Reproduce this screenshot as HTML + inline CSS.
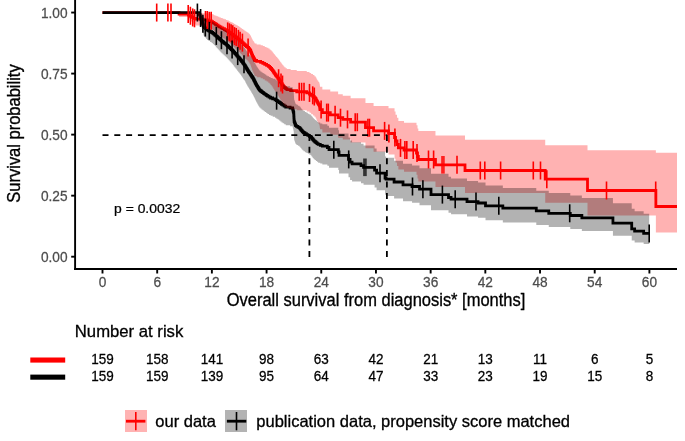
<!DOCTYPE html>
<html><head><meta charset="utf-8"><style>
html,body{margin:0;padding:0;background:#fff;}
body{width:685px;height:441px;overflow:hidden;position:relative;}
svg{position:absolute;left:0;top:0;will-change:transform;}
text{font-family:"Liberation Sans",sans-serif;}
.tk{font-size:13.7px;fill:#4d4d4d;stroke:#4d4d4d;stroke-width:0.25px;}
.rk{font-size:13.5px;fill:#000;stroke:#000;stroke-width:0.25px;}
.tt{font-size:16.5px;fill:#000;stroke:#000;stroke-width:0.3px;}
</style></head><body>
<svg width="685" height="441" viewBox="0 0 685 441">
<rect x="0" y="0" width="685" height="441" fill="#fff"/>
<polyline points="102.50,12.55 179.07,12.55 179.07,14.00 188.36,14.00 188.36,14.88 189.64,14.88 189.64,15.74 190.92,15.74 190.92,16.59 192.19,16.59 192.19,17.45 193.47,17.45 193.47,18.31 195.56,18.31 195.56,19.13 202.31,19.13 202.31,19.97 207.50,19.97 207.50,20.80 211.24,20.80 211.24,21.65 212.61,21.65 212.61,22.52 213.98,22.52 213.98,23.39 215.34,23.39 215.34,24.26 216.71,24.26 216.71,25.15 218.08,25.15 218.08,26.03 219.45,26.03 219.45,26.91 220.99,26.91 220.99,27.81 222.73,27.81 222.73,28.69 224.46,28.69 224.46,29.57 226.01,29.57 226.01,30.49 227.47,30.49 227.47,31.40 228.93,31.40 228.93,32.32 230.29,32.32 230.29,33.24 231.57,33.24 231.57,34.19 232.84,34.19 232.84,35.14 234.12,35.14 234.12,36.09 235.31,36.09 235.31,37.00 236.49,37.00 236.49,37.91 237.68,37.91 237.68,38.82 238.86,38.82 238.86,39.74 239.95,39.74 239.95,40.69 240.96,40.69 240.96,41.61 242.05,41.61 242.05,42.61 243.14,42.61 243.14,43.62 244.24,43.62 244.24,44.61 245.33,44.61 245.33,45.56 246.43,45.56 246.43,46.52 247.52,46.52 247.52,47.47 248.61,47.47 248.61,48.42 249.34,48.42 249.34,49.39 250.07,49.39 250.07,50.41 250.71,50.41 250.71,51.55 251.07,51.55 251.07,52.51 251.44,52.51 251.44,53.47 251.80,53.47 251.80,54.43 252.17,54.43 252.17,55.39 252.62,55.39 252.62,56.42 253.17,56.42 253.17,57.45 253.72,57.45 253.72,58.47 254.26,58.47 254.26,59.50 254.81,59.50 254.81,60.51 256.63,60.51 256.63,61.46 260.65,61.46 260.65,62.41 262.83,62.41 262.83,63.40 264.75,63.40 264.75,64.40 266.57,64.40 266.57,65.39 268.30,65.39 268.30,66.39 269.58,66.39 269.58,67.41 270.58,67.41 270.58,68.48 271.58,68.48 271.58,69.54 272.49,69.54 272.49,70.64 273.22,70.64 273.22,71.74 273.95,71.74 273.95,72.83 274.68,72.83 274.68,73.92 275.41,73.92 275.41,75.02 276.23,75.02 276.23,76.09 277.05,76.09 277.05,77.17 277.87,77.17 277.87,78.25 278.69,78.25 278.69,79.34 279.33,79.34 279.33,80.33 280.06,80.33 280.06,81.46 280.70,81.46 280.70,82.45 281.34,82.45 281.34,83.44 282.07,83.44 282.07,84.53 282.79,84.53 282.79,85.60 283.52,85.60 283.52,86.66 284.34,86.66 284.34,87.69 285.62,87.69 285.62,88.69 286.90,88.69 286.90,89.68 290.63,89.68 290.63,90.69 296.74,90.69 296.74,91.76 306.77,91.76 306.77,92.93 309.50,92.93 309.50,94.11 311.14,94.11 311.14,95.33 312.97,95.33 312.97,96.54 314.42,96.54 314.42,97.82 315.61,97.82 315.61,99.02 316.25,99.02 316.25,100.38 316.88,100.38 316.88,101.74 317.61,101.74 317.61,103.01 318.43,103.01 318.43,104.31 319.25,104.31 319.25,105.61 319.62,105.61 319.62,106.88 319.80,106.88 319.80,108.23 319.98,108.23 319.98,109.58 322.35,109.58 322.35,112.60 330.28,112.60 330.28,114.80 338.12,114.80 338.12,117.70 342.77,117.70 342.77,119.40 350.61,119.40 350.61,122.20 365.47,122.20 365.47,127.70 373.58,127.70 373.58,130.90 388.53,130.90 388.53,133.50 394.54,133.50 394.54,137.50 395.55,137.50 395.55,141.00 397.01,141.00 397.01,144.50 398.37,144.50 398.37,147.90 404.02,147.90 404.02,150.00 416.51,150.00 416.51,153.00 417.51,153.00 417.51,156.50 418.33,156.50 418.33,159.50 435.47,159.50 435.47,164.80 465.00,164.80 465.00,170.50 545.22,170.50 545.22,179.20 587.51,179.20 587.51,190.50 655.87,190.50 655.87,206.50 677.00,206.50" fill="none" stroke="#f00" stroke-width="2.8" stroke-linejoin="miter" stroke-linecap="butt"/>
<polyline points="102.50,12.55 198.75,12.55 198.75,13.51 199.39,13.51 199.39,14.36 199.76,14.36 199.76,15.33 200.03,15.33 200.03,16.21 200.30,16.21 200.30,17.09 200.58,17.09 200.58,17.97 200.85,17.97 200.85,18.85 201.12,18.85 201.12,19.73 201.49,19.73 201.49,20.81 201.85,20.81 201.85,21.78 202.22,21.78 202.22,22.76 202.58,22.76 202.58,23.74 202.95,23.74 202.95,24.71 203.31,24.71 203.31,25.69 203.68,25.69 203.68,26.67 204.41,26.67 204.41,27.54 205.32,27.54 205.32,28.35 206.23,28.35 206.23,29.17 207.14,29.17 207.14,29.98 208.51,29.98 208.51,30.84 210.06,30.84 210.06,31.66 211.61,31.66 211.61,32.48 212.79,32.48 212.79,33.31 213.79,33.31 213.79,34.18 214.80,34.18 214.80,35.04 215.80,35.04 215.80,35.91 216.80,35.91 216.80,36.77 217.80,36.77 217.80,37.67 218.72,37.67 218.72,38.52 219.63,38.52 219.63,39.37 220.54,39.37 220.54,40.22 221.45,40.22 221.45,41.07 222.54,41.07 222.54,41.95 223.64,41.95 223.64,42.79 224.73,42.79 224.73,43.63 225.83,43.63 225.83,44.47 226.83,44.47 226.83,45.37 227.74,45.37 227.74,46.21 228.65,46.21 228.65,47.05 229.56,47.05 229.56,47.89 230.47,47.89 230.47,48.74 231.39,48.74 231.39,49.60 232.21,49.60 232.21,50.52 233.03,50.52 233.03,51.45 233.85,51.45 233.85,52.37 234.67,52.37 234.67,53.30 235.49,53.30 235.49,54.22 236.31,54.22 236.31,55.15 237.13,55.15 237.13,56.09 237.95,56.09 237.95,57.03 238.77,57.03 238.77,57.97 239.59,57.97 239.59,58.91 240.41,58.91 240.41,59.85 241.14,59.85 241.14,60.75 241.78,60.75 241.78,61.61 242.42,61.61 242.42,62.47 243.05,62.47 243.05,63.32 243.69,63.32 243.69,64.18 244.33,64.18 244.33,65.03 244.97,65.03 244.97,65.92 245.51,65.92 245.51,66.86 246.06,66.86 246.06,67.81 246.61,67.81 246.61,68.76 247.16,68.76 247.16,69.71 247.70,69.71 247.70,70.66 248.34,70.66 248.34,71.63 248.98,71.63 248.98,72.54 249.62,72.54 249.62,73.45 250.25,73.45 250.25,74.38 250.89,74.38 250.89,75.34 251.53,75.34 251.53,76.30 252.17,76.30 252.17,77.25 252.81,77.25 252.81,78.21 253.35,78.21 253.35,79.11 253.81,79.11 253.81,80.02 254.26,80.02 254.26,80.93 254.72,80.93 254.72,81.84 255.18,81.84 255.18,82.75 255.63,82.75 255.63,83.66 256.09,83.66 256.09,84.58 256.63,84.58 256.63,85.55 257.18,85.55 257.18,86.46 257.73,86.46 257.73,87.37 258.28,87.37 258.28,88.27 258.82,88.27 258.82,89.18 259.37,89.18 259.37,90.08 260.37,90.08 260.37,90.98 261.47,90.98 261.47,91.84 262.56,91.84 262.56,92.70 263.74,92.70 263.74,93.59 264.93,93.59 264.93,94.44 266.21,94.44 266.21,95.36 267.48,95.36 267.48,96.22 269.03,96.22 269.03,97.11 270.58,97.11 270.58,98.00 272.68,98.00 272.68,98.89 275.05,98.89 275.05,99.78 276.41,99.78 276.41,100.68 277.78,100.68 277.78,101.59 279.15,101.59 279.15,102.51 280.33,102.51 280.33,103.40 281.52,103.40 281.52,104.29 282.79,104.29 282.79,105.21 284.16,105.21 284.16,106.15 285.71,106.15 285.71,107.06 290.09,107.06 290.09,107.98 292.64,107.98 292.64,109.14 292.91,109.14 292.91,110.22 293.19,110.22 293.19,111.29 293.46,111.29 293.46,112.36 293.73,112.36 293.73,113.95 293.82,113.95 293.82,115.78 293.92,115.78 293.92,117.60 294.01,117.60 294.01,119.42 294.10,119.42 294.10,121.25 294.46,121.25 294.46,122.36 294.83,122.36 294.83,123.43 295.19,123.43 295.19,124.51 295.56,124.51 295.56,125.58 296.47,125.58 296.47,126.46 297.93,126.46 297.93,127.34 299.38,127.34 299.38,128.21 300.30,128.21 300.30,129.14 301.02,129.14 301.02,130.06 301.75,130.06 301.75,130.97 302.48,130.97 302.48,131.88 303.49,131.88 303.49,132.76 304.94,132.76 304.94,133.66 306.40,133.66 306.40,134.56 307.86,134.56 307.86,135.41 309.41,135.41 309.41,136.30 310.87,136.30 310.87,137.19 311.60,137.19 311.60,138.10 312.33,138.10 312.33,139.01 313.06,139.01 313.06,139.92 313.79,139.92 313.79,140.83 314.79,140.83 314.79,141.75 315.88,141.75 315.88,142.64 316.98,142.64 316.98,143.54 318.16,143.54 318.16,144.41 320.26,144.41 320.26,145.31 322.35,145.31 322.35,146.21 327.37,146.21 327.37,147.50 329.01,147.50 329.01,149.70 338.31,149.70 338.31,152.00 339.03,152.00 339.03,155.40 348.51,155.40 348.51,159.40 350.06,159.40 350.06,162.20 352.07,162.20 352.07,163.90 361.00,163.90 361.00,165.60 363.55,165.60 363.55,167.30 374.58,167.30 374.58,170.10 376.59,170.10 376.59,173.20 385.07,173.20 385.07,178.00 386.07,178.00 386.07,179.20 394.09,179.20 394.09,182.00 403.02,182.00 403.02,184.80 412.05,184.80 412.05,186.50 419.52,186.50 419.52,189.20 431.00,189.20 431.00,194.60 448.51,194.60 448.51,197.50 451.06,197.50 451.06,199.20 467.01,199.20 467.01,201.60 478.04,201.60 478.04,203.00 485.51,203.00 485.51,205.80 502.83,205.80 502.83,208.20 536.28,208.20 536.28,210.90 548.77,210.90 548.77,213.30 570.28,213.30 570.28,215.50 581.86,215.50 581.86,217.90 612.94,217.90 612.94,223.20 631.72,223.20 631.72,228.90 634.63,228.90 634.63,231.20 643.66,231.20 643.66,233.40 649.20,233.40" fill="none" stroke="#000" stroke-width="2.8" stroke-linejoin="miter" stroke-linecap="butt"/>
<polygon points="102.50,12.55 179.07,12.55 179.07,12.55 188.36,12.55 188.36,12.55 189.64,12.55 189.64,12.55 190.92,12.55 190.92,12.55 192.19,12.55 192.19,12.55 193.47,12.55 193.47,12.55 195.56,12.55 195.56,12.72 202.31,12.72 202.31,13.16 207.50,13.16 207.50,13.62 211.24,13.62 211.24,14.11 212.61,14.11 212.61,14.62 213.98,14.62 213.98,15.16 215.34,15.16 215.34,15.70 216.71,15.70 216.71,16.27 218.08,16.27 218.08,16.85 219.45,16.85 219.45,17.44 220.99,17.44 220.99,18.04 222.73,18.04 222.73,18.65 224.46,18.65 224.46,19.26 226.01,19.26 226.01,19.91 227.47,19.91 227.47,20.56 228.93,20.56 228.93,21.21 230.29,21.21 230.29,21.88 231.57,21.88 231.57,22.58 232.84,22.58 232.84,23.28 234.12,23.28 234.12,23.99 235.31,23.99 235.31,24.66 236.49,24.66 236.49,25.35 237.68,25.35 237.68,26.05 238.86,26.05 238.86,26.75 239.95,26.75 239.95,27.48 240.96,27.48 240.96,28.19 242.05,28.19 242.05,28.97 243.14,28.97 243.14,29.75 244.24,29.75 244.24,30.53 245.33,30.53 245.33,31.29 246.43,31.29 246.43,32.05 247.52,32.05 247.52,32.81 248.61,32.81 248.61,33.57 249.34,33.57 249.34,34.35 250.07,34.35 250.07,35.17 250.71,35.17 250.71,36.11 251.07,36.11 251.07,36.89 251.44,36.89 251.44,37.68 251.80,37.68 251.80,38.48 252.17,38.48 252.17,39.27 252.62,39.27 252.62,40.13 253.17,40.13 253.17,40.99 253.72,40.99 253.72,41.86 254.26,41.86 254.26,42.72 254.81,42.72 254.81,43.58 256.63,43.58 256.63,44.39 260.65,44.39 260.65,45.19 262.83,45.19 262.83,46.03 264.75,46.03 264.75,46.88 266.57,46.88 266.57,47.72 268.30,47.72 268.30,48.57 269.58,48.57 269.58,49.44 270.58,49.44 270.58,50.34 271.58,50.34 271.58,51.26 272.49,51.26 272.49,52.20 273.22,52.20 273.22,53.14 273.95,53.14 273.95,54.09 274.68,54.09 274.68,55.04 275.41,55.04 275.41,55.99 276.23,55.99 276.23,56.93 277.05,56.93 277.05,57.87 277.87,57.87 277.87,58.82 278.69,58.82 278.69,59.79 279.33,59.79 279.33,60.66 280.06,60.66 280.06,61.66 280.70,61.66 280.70,62.54 281.34,62.54 281.34,63.43 282.07,63.43 282.07,64.40 282.79,64.40 282.79,65.36 283.52,65.36 283.52,66.31 284.34,66.31 284.34,67.24 285.62,67.24 285.62,68.14 286.90,68.14 286.90,69.05 290.63,69.05 290.63,69.96 296.74,69.96 296.74,70.91 306.77,70.91 306.77,71.93 309.50,71.93 309.50,72.97 311.14,72.97 311.14,74.03 312.97,74.03 312.97,75.10 314.42,75.10 314.42,76.22 315.61,76.22 315.61,77.27 316.25,77.27 316.25,78.47 316.88,78.47 316.88,79.68 317.61,79.68 317.61,80.82 318.43,80.82 318.43,81.98 319.25,81.98 319.25,83.14 319.62,83.14 319.62,84.29 319.80,84.29 319.80,85.51 319.98,85.51 319.98,86.74 322.35,86.74 322.35,89.50 330.28,89.50 330.28,91.51 338.12,91.51 338.12,94.15 342.77,94.15 342.77,95.70 350.61,95.70 350.61,98.23 365.47,98.23 365.47,103.10 373.58,103.10 373.58,105.95 388.53,105.95 388.53,108.18 394.54,108.18 394.54,111.62 395.55,111.62 395.55,114.67 397.01,114.67 397.01,117.81 398.37,117.81 398.37,120.88 404.02,120.88 404.02,122.78 416.51,122.78 416.51,125.34 417.51,125.34 417.51,128.41 418.33,128.41 418.33,131.12 435.47,131.12 435.47,135.47 465.00,135.47 465.00,139.84 545.22,139.84 545.22,145.28 587.51,145.28 587.51,150.27 655.87,150.27 655.87,152.63 677.00,152.63 677.00,232.49 655.87,232.49 655.87,215.52 587.51,215.52 587.51,202.79 545.22,202.79 545.22,193.11 465.00,193.11 465.00,187.03 435.47,187.03 435.47,181.47 418.33,181.47 418.33,178.44 417.51,178.44 417.51,174.84 416.51,174.84 416.51,171.69 404.02,171.69 404.02,169.54 398.37,169.54 398.37,166.06 397.01,166.06 397.01,162.45 395.55,162.45 395.55,158.76 394.54,158.76 394.54,154.50 388.53,154.50 388.53,151.72 373.58,151.72 373.58,148.36 365.47,148.36 365.47,142.55 350.61,142.55 350.61,139.61 342.77,139.61 342.77,137.84 338.12,137.84 338.12,134.81 330.28,134.81 330.28,132.51 322.35,132.51 322.35,129.35 319.98,129.35 319.98,127.94 319.80,127.94 319.80,126.51 319.62,126.51 319.62,125.17 319.25,125.17 319.25,123.79 318.43,123.79 318.43,122.41 317.61,122.41 317.61,121.05 316.88,121.05 316.88,119.59 316.25,119.59 316.25,118.13 315.61,118.13 315.61,116.84 314.42,116.84 314.42,115.46 312.97,115.46 312.97,114.14 311.14,114.14 311.14,112.82 309.50,112.82 309.50,111.54 306.77,111.54 306.77,110.27 296.74,110.27 296.74,109.13 290.63,109.13 290.63,108.05 286.90,108.05 286.90,106.99 285.62,106.99 285.62,105.93 284.34,105.93 284.34,104.83 283.52,104.83 283.52,103.69 282.79,103.69 282.79,102.55 282.07,102.55 282.07,101.38 281.34,101.38 281.34,100.31 280.70,100.31 280.70,99.25 280.06,99.25 280.06,98.03 279.33,98.03 279.33,96.96 278.69,96.96 278.69,95.76 277.87,95.76 277.87,94.59 277.05,94.59 277.05,93.41 276.23,93.41 276.23,92.24 275.41,92.24 275.41,91.04 274.68,91.04 274.68,89.84 273.95,89.84 273.95,88.63 273.22,88.63 273.22,87.42 272.49,87.42 272.49,86.20 271.58,86.20 271.58,85.02 270.58,85.02 270.58,83.83 269.58,83.83 269.58,82.69 268.30,82.69 268.30,81.57 266.57,81.57 266.57,80.46 264.75,80.46 264.75,79.34 262.83,79.34 262.83,78.22 260.65,78.22 260.65,77.15 256.63,77.15 256.63,76.09 254.81,76.09 254.81,74.96 254.26,74.96 254.26,73.80 253.72,73.80 253.72,72.64 253.17,72.64 253.17,71.48 252.62,71.48 252.62,70.31 252.17,70.31 252.17,69.22 251.80,69.22 251.80,68.12 251.44,68.12 251.44,67.02 251.07,67.02 251.07,65.92 250.71,65.92 250.71,64.59 250.07,64.59 250.07,63.41 249.34,63.41 249.34,62.29 248.61,62.29 248.61,61.17 247.52,61.17 247.52,60.05 246.43,60.05 246.43,58.93 245.33,58.93 245.33,57.81 244.24,57.81 244.24,56.63 243.14,56.63 243.14,55.44 242.05,55.44 242.05,54.24 240.96,54.24 240.96,53.14 239.95,53.14 239.95,52.00 238.86,52.00 238.86,50.89 237.68,50.89 237.68,49.79 236.49,49.79 236.49,48.68 235.31,48.68 235.31,47.57 234.12,47.57 234.12,46.40 232.84,46.40 232.84,45.23 231.57,45.23 231.57,44.05 230.29,44.05 230.29,42.90 228.93,42.90 228.93,41.75 227.47,41.75 227.47,40.60 226.01,40.60 226.01,39.44 224.46,39.44 224.46,38.31 222.73,38.31 222.73,37.17 220.99,37.17 220.99,36.01 219.45,36.01 219.45,34.86 218.08,34.86 218.08,33.69 216.71,33.69 216.71,32.52 215.34,32.52 215.34,31.35 213.98,31.35 213.98,30.17 212.61,30.17 212.61,28.97 211.24,28.97 211.24,27.77 207.50,27.77 207.50,26.59 202.31,26.59 202.31,25.38 195.56,25.38 195.56,24.16 193.47,24.16 193.47,22.87 192.19,22.87 192.19,21.53 190.92,21.53 190.92,20.13 189.64,20.13 189.64,18.65 188.36,18.65 188.36,16.98 179.07,16.98 179.07,12.55 102.50,12.55" fill="#f00" fill-opacity="0.3"/>
<polygon points="102.50,12.55 198.75,12.55 198.75,12.55 199.39,12.55 199.39,12.55 199.76,12.55 199.76,12.55 200.03,12.55 200.03,12.55 200.30,12.55 200.30,12.55 200.58,12.55 200.58,12.55 200.85,12.55 200.85,12.55 201.12,12.55 201.12,12.93 201.49,12.93 201.49,13.52 201.85,13.52 201.85,14.10 202.22,14.10 202.22,14.70 202.58,14.70 202.58,15.31 202.95,15.31 202.95,15.95 203.31,15.95 203.31,16.60 203.68,16.60 203.68,17.27 204.41,17.27 204.41,17.87 205.32,17.87 205.32,18.44 206.23,18.44 206.23,19.02 207.14,19.02 207.14,19.61 208.51,19.61 208.51,20.23 210.06,20.23 210.06,20.84 211.61,20.84 211.61,21.45 212.79,21.45 212.79,22.07 213.79,22.07 213.79,22.72 214.80,22.72 214.80,23.38 215.80,23.38 215.80,24.04 216.80,24.04 216.80,24.71 217.80,24.71 217.80,25.41 218.72,25.41 218.72,26.07 219.63,26.07 219.63,26.74 220.54,26.74 220.54,27.41 221.45,27.41 221.45,28.08 222.54,28.08 222.54,28.78 223.64,28.78 223.64,29.45 224.73,29.45 224.73,30.12 225.83,30.12 225.83,30.80 226.83,30.80 226.83,31.53 227.74,31.53 227.74,32.21 228.65,32.21 228.65,32.90 229.56,32.90 229.56,33.59 230.47,33.59 230.47,34.28 231.39,34.28 231.39,34.99 232.21,34.99 232.21,35.75 233.03,35.75 233.03,36.52 233.85,36.52 233.85,37.29 234.67,37.29 234.67,38.06 235.49,38.06 235.49,38.84 236.31,38.84 236.31,39.62 237.13,39.62 237.13,40.41 237.95,40.41 237.95,41.21 238.77,41.21 238.77,42.01 239.59,42.01 239.59,42.81 240.41,42.81 240.41,43.61 241.14,43.61 241.14,44.38 241.78,44.38 241.78,45.12 242.42,45.12 242.42,45.85 243.05,45.85 243.05,46.59 243.69,46.59 243.69,47.33 244.33,47.33 244.33,48.08 244.97,48.08 244.97,48.84 245.51,48.84 245.51,49.67 246.06,49.67 246.06,50.50 246.61,50.50 246.61,51.33 247.16,51.33 247.16,52.17 247.70,52.17 247.70,53.00 248.34,53.00 248.34,53.86 248.98,53.86 248.98,54.67 249.62,54.67 249.62,55.48 250.25,55.48 250.25,56.31 250.89,56.31 250.89,57.16 251.53,57.16 251.53,58.02 252.17,58.02 252.17,58.88 252.81,58.88 252.81,59.74 253.35,59.74 253.35,60.55 253.81,60.55 253.81,61.37 254.26,61.37 254.26,62.19 254.72,62.19 254.72,63.02 255.18,63.02 255.18,63.85 255.63,63.85 255.63,64.68 256.09,64.68 256.09,65.51 256.63,65.51 256.63,66.41 257.18,66.41 257.18,67.24 257.73,67.24 257.73,68.07 258.28,68.07 258.28,68.90 258.82,68.90 258.82,69.74 259.37,69.74 259.37,70.57 260.37,70.57 260.37,71.40 261.47,71.40 261.47,72.20 262.56,72.20 262.56,72.99 263.74,72.99 263.74,73.82 264.93,73.82 264.93,74.60 266.21,74.60 266.21,75.45 267.48,75.45 267.48,76.25 269.03,76.25 269.03,77.08 270.58,77.08 270.58,77.91 272.68,77.91 272.68,78.73 275.05,78.73 275.05,79.56 276.41,79.56 276.41,80.39 277.78,80.39 277.78,81.24 279.15,81.24 279.15,82.10 280.33,82.10 280.33,82.93 281.52,82.93 281.52,83.76 282.79,83.76 282.79,84.62 284.16,84.62 284.16,85.50 285.71,85.50 285.71,86.35 290.09,86.35 290.09,87.21 292.64,87.21 292.64,88.29 292.91,88.29 292.91,89.30 293.19,89.30 293.19,90.30 293.46,90.30 293.46,91.31 293.73,91.31 293.73,92.82 293.82,92.82 293.82,94.55 293.92,94.55 293.92,96.29 294.01,96.29 294.01,98.03 294.10,98.03 294.10,99.79 294.46,99.79 294.46,100.87 294.83,100.87 294.83,101.91 295.19,101.91 295.19,102.95 295.56,102.95 295.56,104.00 296.47,104.00 296.47,104.86 297.93,104.86 297.93,105.72 299.38,105.72 299.38,106.57 300.30,106.57 300.30,107.49 301.02,107.49 301.02,108.38 301.75,108.38 301.75,109.27 302.48,109.27 302.48,110.17 303.49,110.17 303.49,111.04 304.94,111.04 304.94,111.92 306.40,111.92 306.40,112.80 307.86,112.80 307.86,113.65 309.41,113.65 309.41,114.53 310.87,114.53 310.87,115.40 311.60,115.40 311.60,116.30 312.33,116.30 312.33,117.20 313.06,117.20 313.06,118.11 313.79,118.11 313.79,119.01 314.79,119.01 314.79,119.92 315.88,119.92 315.88,120.81 316.98,120.81 316.98,121.70 318.16,121.70 318.16,122.57 320.26,122.57 320.26,123.47 322.35,123.47 322.35,124.36 327.37,124.36 327.37,125.64 329.01,125.64 329.01,127.84 338.31,127.84 338.31,130.13 339.03,130.13 339.03,133.53 348.51,133.53 348.51,137.55 350.06,137.55 350.06,140.39 352.07,140.39 352.07,142.13 361.00,142.13 361.00,143.86 363.55,143.86 363.55,145.60 374.58,145.60 374.58,148.43 376.59,148.43 376.59,151.61 385.07,151.61 385.07,156.55 386.07,156.55 386.07,157.80 394.09,157.80 394.09,160.71 403.02,160.71 403.02,163.63 412.05,163.63 412.05,165.40 419.52,165.40 419.52,168.21 431.00,168.21 431.00,173.80 448.51,173.80 448.51,176.82 451.06,176.82 451.06,178.61 467.01,178.61 467.01,181.10 478.04,181.10 478.04,182.53 485.51,182.53 485.51,185.42 502.83,185.42 502.83,187.92 536.28,187.92 536.28,190.65 548.77,190.65 548.77,193.12 570.28,193.12 570.28,195.40 581.86,195.40 581.86,197.91 612.94,197.91 612.94,203.18 631.72,203.18 631.72,208.70 634.63,208.70 634.63,211.29 643.66,211.29 643.66,213.78 649.20,213.78 649.20,244.05 643.66,244.05 643.66,242.38 634.63,242.38 634.63,240.60 631.72,240.60 631.72,235.73 612.94,235.73 612.94,231.09 581.86,231.09 581.86,229.01 570.28,229.01 570.28,227.08 548.77,227.08 548.77,224.94 536.28,224.94 536.28,222.50 502.83,222.50 502.83,220.36 485.51,220.36 485.51,217.82 478.04,217.82 478.04,216.54 467.01,216.54 467.01,214.36 451.06,214.36 451.06,212.82 448.51,212.82 448.51,210.18 431.00,210.18 431.00,205.21 419.52,205.21 419.52,202.72 412.05,202.72 412.05,201.16 403.02,201.16 403.02,198.57 394.09,198.57 394.09,195.97 386.07,195.97 386.07,194.86 385.07,194.86 385.07,190.36 376.59,190.36 376.59,187.43 374.58,187.43 374.58,184.76 363.55,184.76 363.55,183.15 361.00,183.15 361.00,181.53 352.07,181.53 352.07,179.92 350.06,179.92 350.06,177.24 348.51,177.24 348.51,173.39 339.03,173.39 339.03,170.09 338.31,170.09 338.31,167.85 329.01,167.85 329.01,165.71 327.37,165.71 327.37,164.45 322.35,164.45 322.35,163.57 320.26,163.57 320.26,162.70 318.16,162.70 318.16,161.85 316.98,161.85 316.98,160.97 315.88,160.97 315.88,160.09 314.79,160.09 314.79,159.20 313.79,159.20 313.79,158.30 313.06,158.30 313.06,157.41 312.33,157.41 312.33,156.51 311.60,156.51 311.60,155.61 310.87,155.61 310.87,154.74 309.41,154.74 309.41,153.86 307.86,153.86 307.86,153.02 306.40,153.02 306.40,152.13 304.94,152.13 304.94,151.24 303.49,151.24 303.49,150.37 302.48,150.37 302.48,149.47 301.75,149.47 301.75,148.57 301.02,148.57 301.02,147.66 300.30,147.66 300.30,146.73 299.38,146.73 299.38,145.86 297.93,145.86 297.93,144.99 296.47,144.99 296.47,144.11 295.56,144.11 295.56,143.04 295.19,143.04 295.19,141.97 294.83,141.97 294.83,140.89 294.46,140.89 294.46,139.77 294.10,139.77 294.10,137.93 294.01,137.93 294.01,136.08 293.92,136.08 293.92,134.23 293.82,134.23 293.82,132.36 293.73,132.36 293.73,130.73 293.46,130.73 293.46,129.62 293.19,129.62 293.19,128.52 292.91,128.52 292.91,127.41 292.64,127.41 292.64,126.20 290.09,126.20 290.09,125.25 285.71,125.25 285.71,124.31 284.16,124.31 284.16,123.33 282.79,123.33 282.79,122.38 281.52,122.38 281.52,121.46 280.33,121.46 280.33,120.54 279.15,120.54 279.15,119.58 277.78,119.58 277.78,118.63 276.41,118.63 276.41,117.69 275.05,117.69 275.05,116.77 272.68,116.77 272.68,115.84 270.58,115.84 270.58,114.91 269.03,114.91 269.03,113.98 267.48,113.98 267.48,113.08 266.21,113.08 266.21,112.12 264.93,112.12 264.93,111.23 263.74,111.23 263.74,110.29 262.56,110.29 262.56,109.39 261.47,109.39 261.47,108.49 260.37,108.49 260.37,107.55 259.37,107.55 259.37,106.60 258.82,106.60 258.82,105.64 258.28,105.64 258.28,104.69 257.73,104.69 257.73,103.73 257.18,103.73 257.18,102.78 256.63,102.78 256.63,101.74 256.09,101.74 256.09,100.77 255.63,100.77 255.63,99.80 255.18,99.80 255.18,98.83 254.72,98.83 254.72,97.86 254.26,97.86 254.26,96.89 253.81,96.89 253.81,95.91 253.35,95.91 253.35,94.95 252.81,94.95 252.81,93.92 252.17,93.92 252.17,92.89 251.53,92.89 251.53,91.86 250.89,91.86 250.89,90.82 250.25,90.82 250.25,89.82 249.62,89.82 249.62,88.83 248.98,88.83 248.98,87.84 248.34,87.84 248.34,86.78 247.70,86.78 247.70,85.75 247.16,85.75 247.16,84.71 246.61,84.71 246.61,83.67 246.06,83.67 246.06,82.63 245.51,82.63 245.51,81.59 244.97,81.59 244.97,80.61 244.33,80.61 244.33,79.67 243.69,79.67 243.69,78.72 243.05,78.72 243.05,77.77 242.42,77.77 242.42,76.82 241.78,76.82 241.78,75.87 241.14,75.87 241.14,74.86 240.41,74.86 240.41,73.81 239.59,73.81 239.59,72.75 238.77,72.75 238.77,71.70 237.95,71.70 237.95,70.64 237.13,70.64 237.13,69.58 236.31,69.58 236.31,68.52 235.49,68.52 235.49,67.47 234.67,67.47 234.67,66.42 233.85,66.42 233.85,65.36 233.03,65.36 233.03,64.31 232.21,64.31 232.21,63.25 231.39,63.25 231.39,62.26 230.47,62.26 230.47,61.28 229.56,61.28 229.56,60.31 228.65,60.31 228.65,59.34 227.74,59.34 227.74,58.36 226.83,58.36 226.83,57.31 225.83,57.31 225.83,56.33 224.73,56.33 224.73,55.34 223.64,55.34 223.64,54.36 222.54,54.36 222.54,53.32 221.45,53.32 221.45,52.32 220.54,52.32 220.54,51.31 219.63,51.31 219.63,50.30 218.72,50.30 218.72,49.28 217.80,49.28 217.80,48.20 216.80,48.20 216.80,47.16 215.80,47.16 215.80,46.12 214.80,46.12 214.80,45.07 213.79,45.07 213.79,44.01 212.79,44.01 212.79,43.00 211.61,43.00 211.61,41.98 210.06,41.98 210.06,40.96 208.51,40.96 208.51,39.90 207.14,39.90 207.14,38.88 206.23,38.88 206.23,37.85 205.32,37.85 205.32,36.82 204.41,36.82 204.41,35.70 203.68,35.70 203.68,34.44 203.31,34.44 203.31,33.16 202.95,33.16 202.95,31.87 202.58,31.87 202.58,30.56 202.22,30.56 202.22,29.23 201.85,29.23 201.85,27.87 201.49,27.87 201.49,26.35 201.12,26.35 201.12,25.07 200.85,25.07 200.85,23.76 200.58,23.76 200.58,22.41 200.30,22.41 200.30,21.00 200.03,21.00 200.03,19.52 199.76,19.52 199.76,17.75 199.39,17.75 199.39,15.98 198.75,15.98 198.75,12.55 102.50,12.55" fill="#000" fill-opacity="0.3"/>
<path d="M156.70 3.55V21.55" stroke="#f00" stroke-width="1.6"/>
<path d="M167.90 3.55V21.55" stroke="#f00" stroke-width="1.6"/>
<path d="M171.00 3.55V21.55" stroke="#f00" stroke-width="1.6"/>
<path d="M188.20 5.00V23.00" stroke="#f00" stroke-width="1.6"/>
<path d="M190.40 6.74V24.74" stroke="#f00" stroke-width="1.6"/>
<path d="M192.70 8.45V26.45" stroke="#f00" stroke-width="1.6"/>
<path d="M194.50 9.31V27.31" stroke="#f00" stroke-width="1.6"/>
<path d="M205.50 10.97V28.97" stroke="#f00" stroke-width="1.6"/>
<path d="M207.30 10.97V28.97" stroke="#f00" stroke-width="1.6"/>
<path d="M209.30 11.80V29.80" stroke="#f00" stroke-width="1.6"/>
<path d="M211.20 11.80V29.80" stroke="#f00" stroke-width="1.6"/>
<path d="M227.70 22.40V40.40" stroke="#f00" stroke-width="1.6"/>
<path d="M229.40 23.32V41.32" stroke="#f00" stroke-width="1.6"/>
<path d="M231.10 24.24V42.24" stroke="#f00" stroke-width="1.6"/>
<path d="M232.80 25.19V43.19" stroke="#f00" stroke-width="1.6"/>
<path d="M234.50 27.09V45.09" stroke="#f00" stroke-width="1.6"/>
<path d="M236.20 28.00V46.00" stroke="#f00" stroke-width="1.6"/>
<path d="M238.40 29.82V47.82" stroke="#f00" stroke-width="1.6"/>
<path d="M240.10 31.69V49.69" stroke="#f00" stroke-width="1.6"/>
<path d="M242.40 33.61V51.61" stroke="#f00" stroke-width="1.6"/>
<path d="M248.10 38.47V56.47" stroke="#f00" stroke-width="1.6"/>
<path d="M278.60 69.25V87.25" stroke="#f00" stroke-width="1.6"/>
<path d="M281.00 73.45V91.45" stroke="#f00" stroke-width="1.6"/>
<path d="M282.50 75.53V93.53" stroke="#f00" stroke-width="1.6"/>
<path d="M299.20 82.76V100.76" stroke="#f00" stroke-width="1.6"/>
<path d="M301.60 82.76V100.76" stroke="#f00" stroke-width="1.6"/>
<path d="M304.00 82.76V100.76" stroke="#f00" stroke-width="1.6"/>
<path d="M309.50 83.93V101.93" stroke="#f00" stroke-width="1.6"/>
<path d="M312.70 86.33V104.33" stroke="#f00" stroke-width="1.6"/>
<path d="M314.30 87.54V105.54" stroke="#f00" stroke-width="1.6"/>
<path d="M321.10 100.58V118.58" stroke="#f00" stroke-width="1.6"/>
<path d="M326.70 103.60V121.60" stroke="#f00" stroke-width="1.6"/>
<path d="M328.30 103.60V121.60" stroke="#f00" stroke-width="1.6"/>
<path d="M335.10 105.80V123.80" stroke="#f00" stroke-width="1.6"/>
<path d="M340.50 108.70V126.70" stroke="#f00" stroke-width="1.6"/>
<path d="M347.50 110.40V128.40" stroke="#f00" stroke-width="1.6"/>
<path d="M355.20 113.20V131.20" stroke="#f00" stroke-width="1.6"/>
<path d="M357.30 113.20V131.20" stroke="#f00" stroke-width="1.6"/>
<path d="M367.90 118.70V136.70" stroke="#f00" stroke-width="1.6"/>
<path d="M369.50 118.70V136.70" stroke="#f00" stroke-width="1.6"/>
<path d="M384.60 121.90V139.90" stroke="#f00" stroke-width="1.6"/>
<path d="M388.90 124.50V142.50" stroke="#f00" stroke-width="1.6"/>
<path d="M394.90 128.50V146.50" stroke="#f00" stroke-width="1.6"/>
<path d="M400.50 138.90V156.90" stroke="#f00" stroke-width="1.6"/>
<path d="M404.90 141.00V159.00" stroke="#f00" stroke-width="1.6"/>
<path d="M406.80 141.00V159.00" stroke="#f00" stroke-width="1.6"/>
<path d="M413.20 141.00V159.00" stroke="#f00" stroke-width="1.6"/>
<path d="M417.00 144.00V162.00" stroke="#f00" stroke-width="1.6"/>
<path d="M428.50 150.50V168.50" stroke="#f00" stroke-width="1.6"/>
<path d="M433.60 150.50V168.50" stroke="#f00" stroke-width="1.6"/>
<path d="M457.00 155.80V173.80" stroke="#f00" stroke-width="1.6"/>
<path d="M480.30 161.50V179.50" stroke="#f00" stroke-width="1.6"/>
<path d="M484.80 161.50V179.50" stroke="#f00" stroke-width="1.6"/>
<path d="M500.60 161.50V179.50" stroke="#f00" stroke-width="1.6"/>
<path d="M533.30 161.50V179.50" stroke="#f00" stroke-width="1.6"/>
<path d="M540.50 161.50V179.50" stroke="#f00" stroke-width="1.6"/>
<path d="M546.80 170.20V188.20" stroke="#f00" stroke-width="1.6"/>
<path d="M606.50 181.50V199.50" stroke="#f00" stroke-width="1.6"/>
<path d="M655.70 181.50V199.50" stroke="#f00" stroke-width="1.6"/>
<rect x="441.15" y="156.00" width="3.6" height="17.6" fill="#f00" fill-opacity="0.82"/>
<path d="M197.40 3.55V21.55" stroke="#000" stroke-width="1.6"/>
<path d="M200.60 8.97V26.97" stroke="#000" stroke-width="1.6"/>
<path d="M202.90 14.74V32.74" stroke="#000" stroke-width="1.6"/>
<path d="M205.30 18.54V36.54" stroke="#000" stroke-width="1.6"/>
<path d="M209.30 21.84V39.84" stroke="#000" stroke-width="1.6"/>
<path d="M216.30 26.91V44.91" stroke="#000" stroke-width="1.6"/>
<path d="M221.40 31.22V49.22" stroke="#000" stroke-width="1.6"/>
<path d="M227.00 36.37V54.37" stroke="#000" stroke-width="1.6"/>
<path d="M232.10 40.60V58.60" stroke="#000" stroke-width="1.6"/>
<path d="M237.70 47.09V65.09" stroke="#000" stroke-width="1.6"/>
<path d="M244.00 55.18V73.18" stroke="#000" stroke-width="1.6"/>
<path d="M276.60 91.68V109.68" stroke="#000" stroke-width="1.6"/>
<path d="M333.80 140.70V158.70" stroke="#000" stroke-width="1.6"/>
<path d="M348.70 150.40V168.40" stroke="#000" stroke-width="1.6"/>
<path d="M380.00 164.20V182.20" stroke="#000" stroke-width="1.6"/>
<path d="M412.50 177.50V195.50" stroke="#000" stroke-width="1.6"/>
<path d="M422.90 180.20V198.20" stroke="#000" stroke-width="1.6"/>
<path d="M442.40 185.60V203.60" stroke="#000" stroke-width="1.6"/>
<path d="M455.20 190.20V208.20" stroke="#000" stroke-width="1.6"/>
<path d="M476.00 192.60V210.60" stroke="#000" stroke-width="1.6"/>
<path d="M498.80 196.80V214.80" stroke="#000" stroke-width="1.6"/>
<path d="M569.70 204.30V222.30" stroke="#000" stroke-width="1.6"/>
<path d="M649.20 224.40V242.40" stroke="#000" stroke-width="1.6"/>
<rect x="363.15" y="158.50" width="3.6" height="17.6" fill="#000" fill-opacity="0.72"/>
<g>
<line x1="102.50" y1="135.03" x2="386.89" y2="135.03" stroke="#000" stroke-width="1.8" stroke-dasharray="6 5.8"/>
<line x1="309.41" y1="257.10" x2="309.41" y2="135.03" stroke="#000" stroke-width="1.8" stroke-dasharray="6 5.6"/>
<line x1="386.89" y1="257.10" x2="386.89" y2="135.03" stroke="#000" stroke-width="1.8" stroke-dasharray="6 5.6"/>
</g>
<line x1="75.1" y1="0" x2="75.1" y2="269.95" stroke="#000" stroke-width="1.9"/>
<line x1="74.15" y1="269.0" x2="677" y2="269.0" stroke="#000" stroke-width="1.9"/>
<line x1="71.2" y1="256.70" x2="75.1" y2="256.70" stroke="#000" stroke-width="1.9"/>
<line x1="71.2" y1="195.66" x2="75.1" y2="195.66" stroke="#000" stroke-width="1.9"/>
<line x1="71.2" y1="134.62" x2="75.1" y2="134.62" stroke="#000" stroke-width="1.9"/>
<line x1="71.2" y1="73.59" x2="75.1" y2="73.59" stroke="#000" stroke-width="1.9"/>
<line x1="71.2" y1="12.55" x2="75.1" y2="12.55" stroke="#000" stroke-width="1.9"/>
<line x1="102.50" y1="269.0" x2="102.50" y2="273.5" stroke="#000" stroke-width="1.9"/>
<line x1="157.19" y1="269.0" x2="157.19" y2="273.5" stroke="#000" stroke-width="1.9"/>
<line x1="211.88" y1="269.0" x2="211.88" y2="273.5" stroke="#000" stroke-width="1.9"/>
<line x1="266.57" y1="269.0" x2="266.57" y2="273.5" stroke="#000" stroke-width="1.9"/>
<line x1="321.26" y1="269.0" x2="321.26" y2="273.5" stroke="#000" stroke-width="1.9"/>
<line x1="375.95" y1="269.0" x2="375.95" y2="273.5" stroke="#000" stroke-width="1.9"/>
<line x1="430.64" y1="269.0" x2="430.64" y2="273.5" stroke="#000" stroke-width="1.9"/>
<line x1="485.33" y1="269.0" x2="485.33" y2="273.5" stroke="#000" stroke-width="1.9"/>
<line x1="540.02" y1="269.0" x2="540.02" y2="273.5" stroke="#000" stroke-width="1.9"/>
<line x1="594.71" y1="269.0" x2="594.71" y2="273.5" stroke="#000" stroke-width="1.9"/>
<line x1="649.40" y1="269.0" x2="649.40" y2="273.5" stroke="#000" stroke-width="1.9"/>
<text transform="translate(67.60,17.95) scale(1,1.12)" text-anchor="end" class="tk">1.00</text><text transform="translate(67.60,78.99) scale(1,1.12)" text-anchor="end" class="tk">0.75</text><text transform="translate(67.60,140.03) scale(1,1.12)" text-anchor="end" class="tk">0.50</text><text transform="translate(67.60,201.06) scale(1,1.12)" text-anchor="end" class="tk">0.25</text><text transform="translate(67.60,262.10) scale(1,1.12)" text-anchor="end" class="tk">0.00</text>
<text transform="translate(102.50,286.70) scale(1,1.12)" text-anchor="middle" class="tk">0</text><text transform="translate(157.19,286.70) scale(1,1.12)" text-anchor="middle" class="tk">6</text><text transform="translate(211.88,286.70) scale(1,1.12)" text-anchor="middle" class="tk">12</text><text transform="translate(266.57,286.70) scale(1,1.12)" text-anchor="middle" class="tk">18</text><text transform="translate(321.26,286.70) scale(1,1.12)" text-anchor="middle" class="tk">24</text><text transform="translate(375.95,286.70) scale(1,1.12)" text-anchor="middle" class="tk">30</text><text transform="translate(430.64,286.70) scale(1,1.12)" text-anchor="middle" class="tk">36</text><text transform="translate(485.33,286.70) scale(1,1.12)" text-anchor="middle" class="tk">42</text><text transform="translate(540.02,286.70) scale(1,1.12)" text-anchor="middle" class="tk">48</text><text transform="translate(594.71,286.70) scale(1,1.12)" text-anchor="middle" class="tk">54</text><text transform="translate(649.40,286.70) scale(1,1.12)" text-anchor="middle" class="tk">60</text>
<text transform="translate(114.10,213.30) scale(1,0.93)" text-anchor="start" class="rk" style="font-size:13.9px">p = 0.0032</text>
<text transform="translate(376.00,305.80) scale(1,1.1)" text-anchor="middle" class="tt">Overall survival from diagnosis* [months]</text>
<text transform="translate(20.20,133.50) rotate(-90) scale(1,1.1)" text-anchor="middle" class="tt">Survival probability</text>
<text transform="translate(74.80,337.20) scale(1,1.03)" text-anchor="start" class="tt" style="font-size:16.7px">Number at risk</text>
<rect x="30.3" y="357.5" width="34.9" height="5.1" fill="#f00"/>
<rect x="30.3" y="374.6" width="34.9" height="5.1" fill="#000"/>
<text transform="translate(102.50,363.60) scale(1,1.1)" text-anchor="middle" class="rk">159</text><text transform="translate(102.50,381.00) scale(1,1.1)" text-anchor="middle" class="rk">159</text><text transform="translate(157.19,363.60) scale(1,1.1)" text-anchor="middle" class="rk">158</text><text transform="translate(157.19,381.00) scale(1,1.1)" text-anchor="middle" class="rk">159</text><text transform="translate(211.88,363.60) scale(1,1.1)" text-anchor="middle" class="rk">141</text><text transform="translate(211.88,381.00) scale(1,1.1)" text-anchor="middle" class="rk">139</text><text transform="translate(266.57,363.60) scale(1,1.1)" text-anchor="middle" class="rk">98</text><text transform="translate(266.57,381.00) scale(1,1.1)" text-anchor="middle" class="rk">95</text><text transform="translate(321.26,363.60) scale(1,1.1)" text-anchor="middle" class="rk">63</text><text transform="translate(321.26,381.00) scale(1,1.1)" text-anchor="middle" class="rk">64</text><text transform="translate(375.95,363.60) scale(1,1.1)" text-anchor="middle" class="rk">42</text><text transform="translate(375.95,381.00) scale(1,1.1)" text-anchor="middle" class="rk">47</text><text transform="translate(430.64,363.60) scale(1,1.1)" text-anchor="middle" class="rk">21</text><text transform="translate(430.64,381.00) scale(1,1.1)" text-anchor="middle" class="rk">33</text><text transform="translate(485.33,363.60) scale(1,1.1)" text-anchor="middle" class="rk">13</text><text transform="translate(485.33,381.00) scale(1,1.1)" text-anchor="middle" class="rk">23</text><text transform="translate(540.02,363.60) scale(1,1.1)" text-anchor="middle" class="rk">11</text><text transform="translate(540.02,381.00) scale(1,1.1)" text-anchor="middle" class="rk">19</text><text transform="translate(594.71,363.60) scale(1,1.1)" text-anchor="middle" class="rk">6</text><text transform="translate(594.71,381.00) scale(1,1.1)" text-anchor="middle" class="rk">15</text><text transform="translate(649.40,363.60) scale(1,1.1)" text-anchor="middle" class="rk">5</text><text transform="translate(649.40,381.00) scale(1,1.1)" text-anchor="middle" class="rk">8</text>
<rect x="125" y="410" width="22" height="22" fill="#ffb3b3"/>
<line x1="126" y1="421.2" x2="145.4" y2="421.2" stroke="#f00" stroke-width="2.8"/>
<line x1="135.8" y1="412" x2="135.8" y2="430.3" stroke="#f00" stroke-width="1.6"/>
<text transform="translate(155.30,426.90) scale(1,1.0)" text-anchor="start" class="tt">our data</text>
<rect x="225" y="410" width="22" height="22" fill="#b3b3b3"/>
<line x1="226.9" y1="421.2" x2="246.3" y2="421.2" stroke="#000" stroke-width="2.8"/>
<line x1="236.5" y1="412" x2="236.5" y2="430.3" stroke="#000" stroke-width="1.6"/>
<text transform="translate(256.30,426.90) scale(1,1.0)" text-anchor="start" class="tt">publication data, propensity score matched</text>
</svg>
</body></html>
